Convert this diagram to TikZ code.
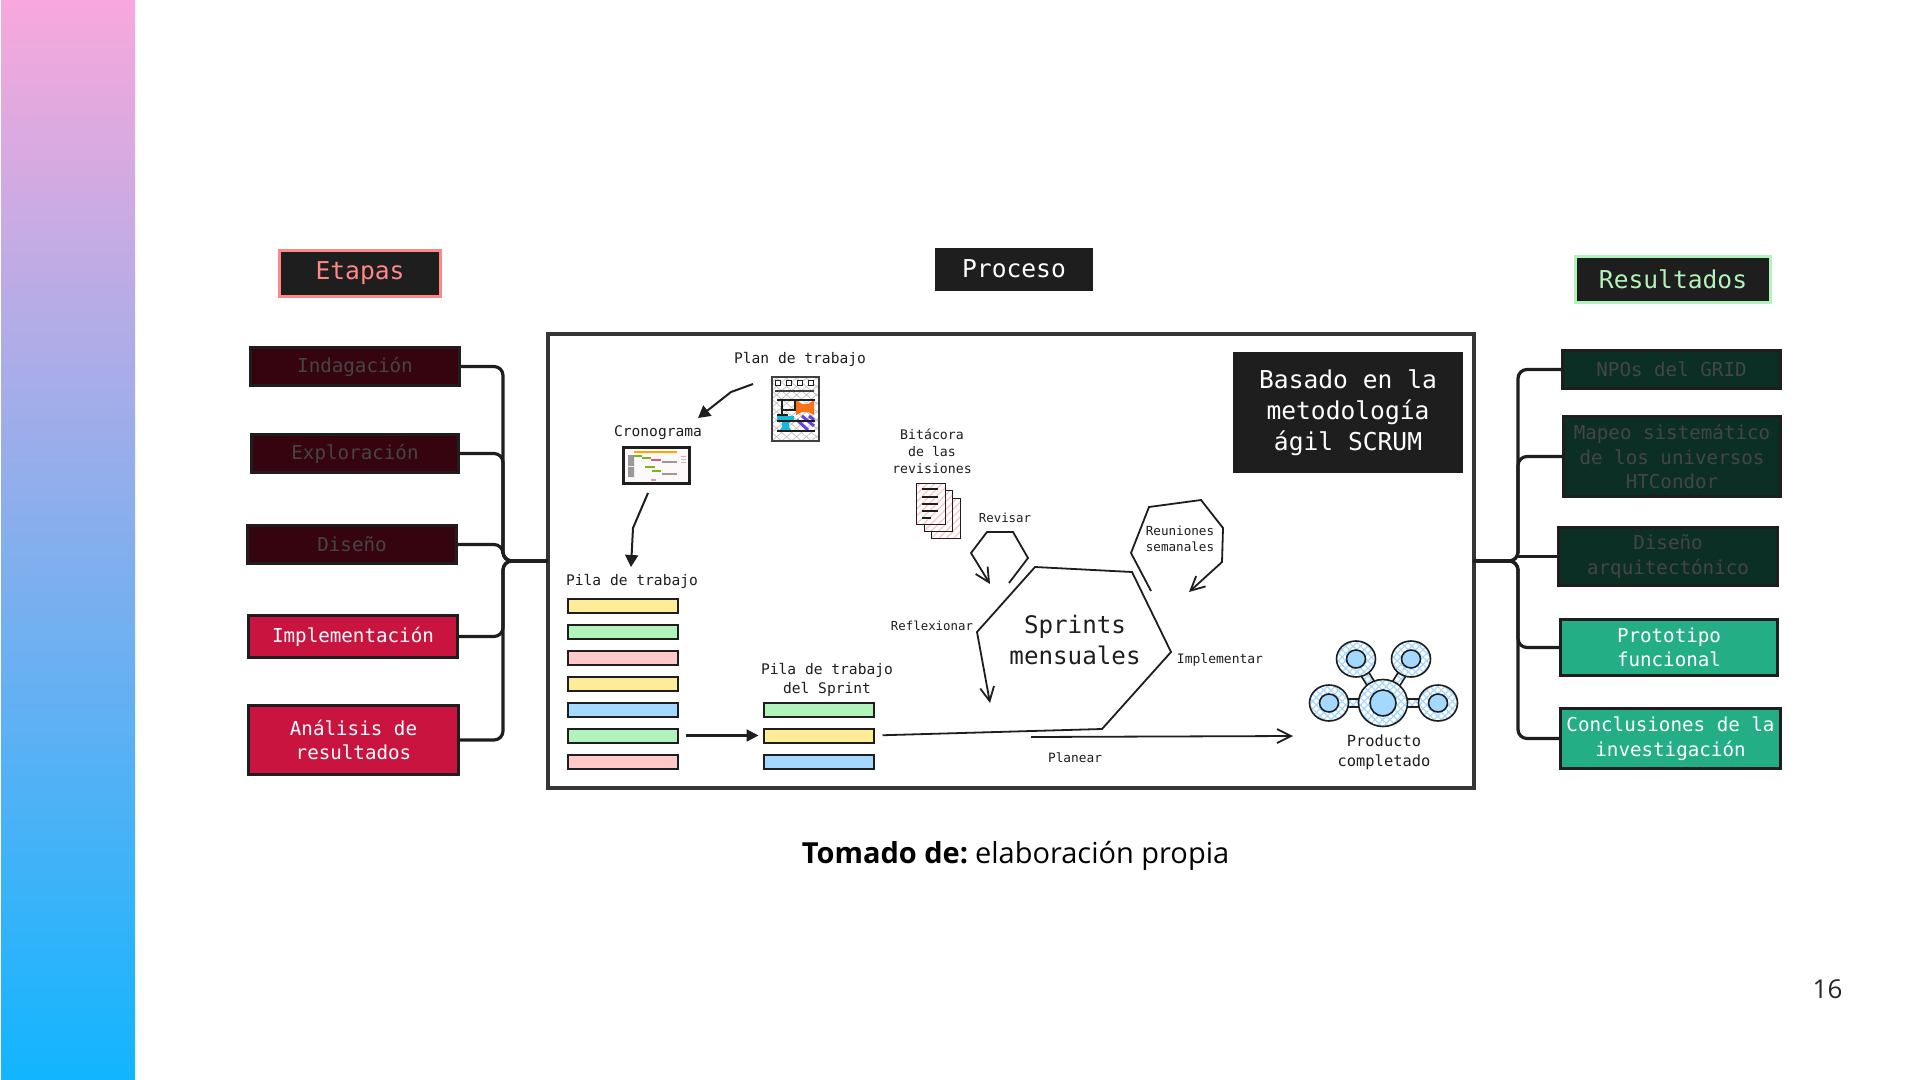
\documentclass[tikz,border=0pt]{standalone}
\usepackage{fontspec}
\setmainfont{Open Sans}
\newfontfamily\monof{DejaVu Sans Mono}
\usetikzlibrary{arrows.meta,patterns.meta,calc}
\definecolor{ink}{HTML}{1E1E1E}
\definecolor{dred}{HTML}{35040F}
\definecolor{red}{HTML}{C91440}
\definecolor{dgreen}{HTML}{0B2F24}
\definecolor{agreen}{HTML}{24AE85}
\definecolor{dim}{HTML}{454545}
\definecolor{yy}{HTML}{FFEC99}
\definecolor{gg}{HTML}{B2F2BB}
\definecolor{pp}{HTML}{FFC9C9}
\definecolor{bb}{HTML}{A5D8FF}
\definecolor{salmon}{HTML}{FF8787}
\definecolor{logoO}{HTML}{F97316}
\definecolor{logoC}{HTML}{1AB8D8}
\definecolor{logoV}{HTML}{6741D9}
\definecolor{gantG}{HTML}{7CB518}
\newcommand\bx[7]{%
  \pgfmathsetmacro\bxw{(#4-#2-3)*0.5}%
  \pgfmathsetmacro\bxh{(#5-#3-3)*0.5}%
  \node[#6,minimum width=\bxw pt,minimum height=\bxh pt] (#1) at ({(#2+#4)/2},{(#3+#5)/2}) {#7};}
\tikzset{
  boxbase/.style={draw=ink,line width=1.5pt,inner sep=0pt,outer sep=0pt,align=center},
  fsA/.style={font=\monof\fontsize{9.6}{12.3}\selectfont},
  fsT/.style={font=\monof\fontsize{12.3}{15.6}\selectfont},
  lab/.style={font=\monof\fontsize{7.3}{9.3}\selectfont,text=ink,align=center,inner sep=0pt},
  labS/.style={font=\monof\fontsize{6.2}{8.3}\selectfont,text=ink,align=center,inner sep=0pt},
  off/.style={boxbase,fsA,text=dim},
  offR/.style={off,fill=dred},
  offG/.style={off,fill=dgreen},
  onR/.style={boxbase,fsA,text=white,fill=red},
  onG/.style={boxbase,fsA,text=white,fill=agreen},
  head/.style={boxbase,fsT,fill=ink},
  bar/.style={draw=ink,line width=1pt,inner sep=0pt,outer sep=0pt},
  conn/.style={draw=ink,line width=1.6pt,rounded corners=4.5pt},
  sk/.style={draw=ink,line width=.9pt,line join=miter},
  skopen/.style={sk,-{Straight Barb[length=7pt,width=7pt,line width=.9pt]}},
  skfill/.style={draw=ink,line width=1pt,-{Triangle[length=6pt,width=6.5pt]}},
  hatchblue/.style={preaction={fill=white},
    preaction={pattern={Lines[angle=45,distance=2.6pt,line width=.6pt]},pattern color=bb},
    preaction={pattern={Lines[angle=-45,distance=2.6pt,line width=.6pt]},pattern color=bb}},
  netl/.style={draw=ink,line width=.8pt,hatchblue},
  netc/.style={draw=ink,line width=.8pt,fill=bb},
}
\begin{document}
\begin{tikzpicture}[x=0.5pt,y=-0.5pt]
\useasboundingbox (0,0) rectangle (1920,1080);
\fill[white] (0,0) rectangle (1920,1080);
\definecolor{gtop}{HTML}{F8A8DC}
\definecolor{gmid}{HTML}{A8ABE8}
\definecolor{gbot}{HTML}{12B5FF}
\fill[top color=gtop,middle color=gmid,bottom color=gbot] (1,0) rectangle (135,1080);

% titles
\bx{etapas}{278}{249}{442}{298}{head,draw=salmon,text=salmon}{\raisebox{-.5pt}{Etapas}}
\bx{proceso}{935}{248}{1093}{291}{head,text=white}{\raisebox{1pt}{Proceso}}
\bx{result}{1574}{255}{1772}{304}{head,draw=gg,text=gg}{\raisebox{.5pt}{Resultados}}

% main frame
\bx{frame}{546}{333}{1475}{789}{draw=ink!90,line width=2pt,inner sep=0pt,outer sep=0pt,fill=white}{}

% left boxes
\bx{ind}{249}{346}{461}{387}{offR}{Indagación}
\bx{exp}{250}{433}{460}{474}{offR}{Exploración}
\bx{dis}{246}{524}{458}{565}{offR}{Diseño}
\bx{imp}{247}{614}{459}{659}{onR}{Implementación}
\bx{ana}{247}{704}{460}{776}{onR}{Análisis de\\resultados}

% right boxes
\bx{npo}{1561}{349}{1782}{390}{offG}{NPOs del GRID}
\bx{map}{1562}{415}{1782}{498}{offG}{Mapeo sistemático\\de los universos\\HTCondor}
\bx{arq}{1557}{526}{1779}{587}{offG}{Diseño\\arquitectónico}
\bx{pro}{1559}{618}{1779}{677}{onG}{Prototipo\\funcional}
\bx{con}{1559}{707}{1782}{770}{onG}{Conclusiones de la\\investigación}

% brackets
\coordinate (ls) at (503,561);
\coordinate (rs) at (1518,561);
\foreach \n in {ind,exp,dis,imp,ana}{
  \draw[conn] (\n.east) -| (ls) -- (frame.west);
}
\foreach \n in {npo,map,pro,con}{
  \draw[conn] (\n.west) -| (rs) -- (frame.east);
}
\draw[conn] (arq.west) -- (arq.west -| rs);

% Basado
\bx{scrum}{1233}{352}{1463}{473}{boxbase,fsT,fill=ink,text=white}{Basado en la\\metodología\\ágil SCRUM}

% labels
\node[lab] (lplan) at (800,359) {Plan de trabajo};
\node[lab] (lcron) at (658,433) {Cronograma};
\node[lab] (lpila) at (632,581) {Pila de trabajo};
\node[lab,font=\monof\fontsize{7.3}{9.4}\selectfont] (lspr) at (827,680) {Pila de trabajo\\del Sprint};
\node[lab,font=\monof\fontsize{6.6}{8.5}\selectfont] (lbit) at (932,451) {Bitácora\\de las\\revisiones};
\node[labS] (lrev) at (1005,518) {Revisar};
\node[labS] (lref) at (932,626) {Reflexionar};
\node[labS,font=\monof\fontsize{6.3}{8.2}\selectfont] (lreu) at (1180,539) {Reuniones\\semanales};
\node[lab,font=\monof\fontsize{6.5}{8.5}\selectfont] (limp) at (1220,660) {Implementar};
\node[labS,font=\monof\fontsize{6.4}{8.5}\selectfont] (lpla) at (1075,758) {Planear};
\node[lab,font=\monof\fontsize{12.1}{15.9}\selectfont] (lsp) at (1075,640) {Sprints\\mensuales};
\node[lab,font=\monof\fontsize{7.7}{10}\selectfont] (lprod) at (1384,752) {Producto\\completado};

% stacks
\bx{p1}{566}{597}{679}{614}{bar,fill=yy}{}
\bx{p2}{566}{623}{679}{640}{bar,fill=gg}{}
\bx{p3}{566}{649}{679}{666}{bar,fill=pp}{}
\bx{p4}{566}{675}{679}{692}{bar,fill=yy}{}
\bx{p5}{566}{701}{679}{718}{bar,fill=bb}{}
\bx{p6}{566}{727}{679}{744}{bar,fill=gg}{}
\bx{p7}{566}{753}{679}{770}{bar,fill=pp}{}
\bx{s1}{762}{701}{875}{718}{bar,fill=gg}{}
\bx{s2}{762}{727}{875}{744}{bar,fill=yy}{}
\bx{s3}{762}{753}{875}{770}{bar,fill=bb}{}

% plan document icon
\bx{docplan}{770}{375}{820}{442}{bar,draw=ink!85,preaction={fill=white},
   preaction={pattern={Lines[angle=40,distance=3.2pt,line width=.35pt]},pattern color=black!25},
   preaction={pattern={Lines[angle=-40,distance=3.2pt,line width=.35pt]},pattern color=black!25}}{}
\foreach \xx in {778,789,800,811}{\draw[ink,line width=.8pt,fill=white] (\xx-2.5,380.5) rectangle (\xx+2.5,385.5);}
\draw[ink!85,line width=.9pt] (775,391)--(814,391);
\fill[logoO] (796,400)--(802,404)--(808,404)--(814,400)--(814,415)--(808,412)--(802,412)--(796,415)--cycle;
\fill[logoC] (777,416)--(794,416)--(794,420)--(789,423)--(789,427)--(792,431)--(779,431)--(782,427)--(782,422)--(777,421)--cycle;
\draw[logoV,line width=1.5pt] (802,416)--(814,426) (797,420)--(808,430) (809,416)--(814,420);
\draw[ink,line width=.9pt] (777,400)--(815,400) (777,421)--(815,421) (777,431)--(815,431);
\draw[ink,line width=1.1pt] (782,400)--(782,415) (795,400)--(795,410)--(782,410) (777,415)--(788,415);

% gantt icon
\bx{gantt}{622}{446}{691}{485}{bar,line width=1.2pt,fill=red!3!white}{}
\fill[black!40] (628,455) rectangle (634,466) (628,467) rectangle (634,477);
\draw[orange!70!yellow,line width=1.2pt] (634,452)--(677,452);
\draw[gantG,line width=.8pt] (634,456)--(642,456) (642,458)--(651,458) (645,467)--(655,467) (652,471)--(661,471);
\draw[red!70,line width=.7pt] (651,460)--(661,460);
\draw[black!40,line width=.7pt] (662,462)--(677,462) (662,474)--(677,474);
\draw[violet!40,line width=1pt] (651,480)--(656,480);
\draw[red!40,line width=.4pt] (681,456)--(686,456);
\draw[black!25,line width=.4pt] (681,459)--(686,459) (681,462)--(686,462);

% stacked pages icon
\foreach \nm/\a/\b/\c/\d in {pg3/930/497/962/540,pg2/923/489/954/533,pg1/915/482/947/526}{
  \bx{\nm}{\a}{\b}{\c}{\d}{bar,line width=.9pt,preaction={fill=white},
     preaction={pattern={Lines[angle=45,distance=2.6pt,line width=.7pt]},pattern color=pp}}{}
}
\draw[ink,line width=.9pt] (922,489)--(938,489) (922,497)--(938,497) (922,504)--(938,504) (922,511)--(938,511) (922,518)--(931,518);

% network icon
\foreach \nm/\cx/\cy/\rot in {c1/1353.5/703/0,c2/1413.5/703/0,c3/1368/679/-58,c4/1399/679/58}{
  \node[draw=ink,line width=.8pt,hatchblue,minimum width=6.5pt,minimum height=4.2pt,inner sep=0pt,rotate=\rot] (\nm) at (\cx,\cy) {};
}
\foreach \nm/\cx/\cy/\rx/\ry/\ix/\iy in {
  n1/1356/659/19.5/18/9.5/9, n2/1411/659/19.5/18/9.5/9,
  n3/1329/703/19.5/18/9.5/9, n4/1438/703/19.5/18/9.5/9,
  n0/1383/703/24.5/23.5/13/13}{
  \draw[netl] (\cx,\cy) ellipse [x radius=\rx,y radius=\ry];
  \draw[netc] (\cx,\cy) ellipse [x radius=\ix,y radius=\iy];
}

% connectors
\coordinate (planOut) at (753,384);
\coordinate (cronIn) at (698,418);
\coordinate (cronOut) at (648,493);
\coordinate (pilaIn) at (631,567);
\draw[skfill] (planOut) -- (731,392) -- (cronIn);
\draw[skfill] (cronOut) -- (633,528) -- (pilaIn);
\draw[draw=ink,line width=1.1pt,shorten <=4pt,shorten >=2.5pt,-{Triangle[length=6pt,width=6pt]}] (p6.east) -- (s2.west);

\coordinate (sprEnd) at (990,703);
\draw[skopen,shorten <=4.5pt] (s2.east) -- (1102,729) -- (1171,652) -- (1132,572) -- (1035,567) -- (977,632) -- (sprEnd);

\coordinate (planS) at (1031,737);
\coordinate (prodIn) at (1293,736);
\draw[skopen] (planS) -- (prodIn);

\coordinate (revS) at (1009,583);
\coordinate (revE) at (990,584);
\draw[skopen] (revS) -- (1028,558) -- (1013,532) -- (987,532) -- (971,553) -- (revE);

\coordinate (reuS) at (1151,591);
\coordinate (reuE) at (1189,592);
\draw[skopen] (reuS) -- (1131,553) -- (1149,507) -- (1201,500) -- (1223,528) -- (1222,562) -- (reuE);

% caption and page number
\node[inner sep=0pt,text=black,font=\fontsize{14.5}{17}\selectfont] (cap) at (1015.5,856) {\textbf{Tomado de:}\hspace{.24em}elaboración propia};
\node[inner sep=0pt,text=black!85,font=\fontsize{13}{15}\selectfont] (pg) at (1827.5,989) {16};
\end{tikzpicture}
\end{document}
